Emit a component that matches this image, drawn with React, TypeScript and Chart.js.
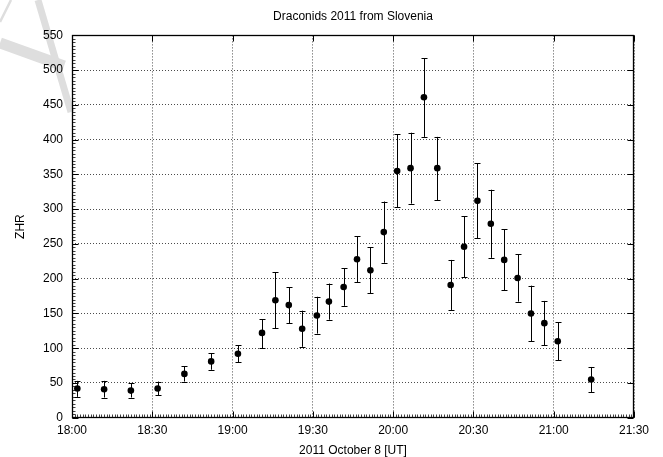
import React, { useEffect, useRef } from 'react';
import { Chart, registerables } from 'chart.js';

Chart.register(...registerables);

const TITLE = 'Draconids 2011 from Slovenia';
const X_LABEL = '2011 October 8 [UT]';
const Y_LABEL = 'ZHR';
const X_TICK_LABELS = ['18:00', '18:30', '19:00', '19:30', '20:00', '20:30', '21:00', '21:30'];

// time of each point, in minutes after 18:00 UT
const minutesAfter1800 = [2, 12, 22, 32, 42, 52, 62, 71, 76, 81, 86, 91.5, 96, 101.5, 106.5, 111.5, 116.5, 121.5, 126.5, 131.5, 136.5, 141.5, 146.5, 151.5, 156.5, 161.5, 166.5, 171.5, 176.5, 181.5, 194];
const zhr = [42, 41, 39, 42, 63, 81, 92, 122, 169, 162, 128, 147, 167, 188, 228, 212, 267, 355, 359, 461, 359, 191, 246, 312, 279, 227, 201, 150, 136, 110, 55];
const zhrLow = [30, 29, 29, 32, 52, 69, 80, 100, 129, 136, 102, 121, 141, 161, 195, 179, 223, 303, 308, 404, 313, 155, 202, 258, 230, 183, 167, 110, 104, 83, 37];
const zhrHigh = [53, 53, 50, 52, 74, 93, 104, 142, 209, 188, 154, 174, 193, 215, 261, 245, 311, 408, 410, 517, 404, 227, 290, 366, 328, 271, 235, 190, 168, 137, 73];

const FONT = "'Liberation Sans', Arial, Helvetica, sans-serif";

const decorPlugin = {
  id: 'decor',
  beforeDraw(chart: any) {
    const ctx = chart.ctx;
    ctx.save();
    ctx.strokeStyle = '#dedede';
    ctx.lineCap = 'butt';
    ctx.lineWidth = 11;
    ctx.beginPath();
    ctx.moveTo(0, 43);
    ctx.lineTo(64, 66);
    ctx.stroke();
    ctx.lineWidth = 7;
    ctx.beginPath();
    ctx.moveTo(38, 0);
    ctx.lineTo(71, 112);
    ctx.stroke();
    ctx.lineWidth = 2.5;
    ctx.beginPath();
    ctx.moveTo(0, 22);
    ctx.lineTo(11, 0);
    ctx.stroke();
    ctx.restore();
  },
  beforeDatasetsDraw(chart: any) {
    const ctx = chart.ctx;
    const xs = chart.scales.x;
    const ys = chart.scales.y;
    ctx.save();
    ctx.strokeStyle = '#000';
    ctx.lineWidth = 1;
    for (let i = 0; i < minutesAfter1800.length; i++) {
      const x = Math.round(xs.getPixelForValue(minutesAfter1800[i])) + 0.5;
      const yl = ys.getPixelForValue(zhrLow[i]);
      const yh = ys.getPixelForValue(zhrHigh[i]);
      ctx.beginPath();
      ctx.moveTo(x, yl);
      ctx.lineTo(x, yh);
      ctx.moveTo(x - 3, Math.round(yl) + 0.5);
      ctx.lineTo(x + 3, Math.round(yl) + 0.5);
      ctx.moveTo(x - 3, Math.round(yh) + 0.5);
      ctx.lineTo(x + 3, Math.round(yh) + 0.5);
      ctx.stroke();
    }
    ctx.restore();
  },
  afterDraw(chart: any) {
    const ctx = chart.ctx;
    const { left, right, top, bottom } = chart.chartArea;
    const xs = chart.scales.x;
    const ys = chart.scales.y;
    const L = Math.round(left) + 0.5;
    const R = Math.round(right) - 0.5;
    const T = Math.round(top) + 0.5;
    const B = Math.round(bottom) - 0.5;
    ctx.save();
    // minor ticks (left and bottom)
    ctx.strokeStyle = 'rgba(0,0,0,0.75)';
    ctx.lineWidth = 1;
    ctx.beginPath();
    for (let m = 0; m <= 210; m += 1) {
      const x = Math.round(xs.getPixelForValue(m)) + 0.5;
      ctx.moveTo(x, B);
      ctx.lineTo(x, B - 3);
    }
    for (let v = 0; v <= 550; v += 5) {
      const y = Math.round(ys.getPixelForValue(v)) + 0.5;
      ctx.moveTo(L, y);
      ctx.lineTo(L + 3, y);
    }
    ctx.stroke();
    // major ticks, inward on all sides
    ctx.strokeStyle = '#000';
    ctx.beginPath();
    for (let m = 0; m <= 210; m += 30) {
      const x = Math.round(xs.getPixelForValue(m)) + 0.5;
      ctx.moveTo(x, B);
      ctx.lineTo(x, B - 6);
      ctx.moveTo(x, T);
      ctx.lineTo(x, T + 6);
    }
    for (let v = 0; v <= 550; v += 50) {
      const y = Math.round(ys.getPixelForValue(v)) + 0.5;
      ctx.moveTo(L, y);
      ctx.lineTo(L + 6, y);
      ctx.moveTo(R, y);
      ctx.lineTo(R - 6, y);
    }
    ctx.stroke();
    // frame
    ctx.lineWidth = 1.3;
    ctx.strokeRect(L, T, R - L, B - T);
    ctx.restore();
  },
};

export default function App() {
  const ref = useRef<HTMLCanvasElement | null>(null);

  useEffect(() => {
    document.body.style.margin = '0';
    const canvas = ref.current;
    if (!canvas) return;
    Chart.defaults.font.family = FONT;
    Chart.defaults.color = '#000';
    const chart = new Chart(canvas, {
      type: 'scatter',
      data: {
        datasets: [
          {
            label: Y_LABEL,
            data: minutesAfter1800.map((m, i) => ({ x: m, y: zhr[i] })),
            backgroundColor: '#000',
            borderColor: '#000',
            borderWidth: 0,
            pointRadius: 3.3,
            pointHoverRadius: 3.3,
            showLine: false,
          },
        ],
      },
      options: {
        responsive: false,
        animation: false,
        devicePixelRatio: 1,
        layout: { padding: { left: 0, right: 29, top: 0, bottom: 0 } },
        plugins: {
          legend: { display: false },
          tooltip: { enabled: false },
          title: {
            display: true,
            text: TITLE,
            fullSize: false,
            color: '#000',
            font: { family: FONT, size: 12, weight: 'normal' },
            padding: { top: 9, bottom: 12 },
          },
        },
        scales: {
          x: {
            type: 'linear',
            min: 0,
            max: 210,
            afterFit: (s: any) => {
              s.height = 39.3;
            },
            ticks: {
              stepSize: 30,
              padding: 6,
              font: { family: FONT, size: 12 },
              color: '#000',
              maxRotation: 0,
              callback: (_v: any, i: number) => X_TICK_LABELS[i],
            },
            grid: {
              color: 'rgba(0,0,0,0.7)',
              lineWidth: 1,
              drawTicks: false,
            },
            border: { display: false, dash: [1, 2] },
            title: {
              display: true,
              text: X_LABEL,
              color: '#000',
              font: { family: FONT, size: 12 },
              padding: { top: 0, bottom: -1 },
            },
          },
          y: {
            type: 'linear',
            min: 0,
            max: 550,
            afterFit: (s: any) => {
              s.width = 72;
            },
            ticks: {
              stepSize: 50,
              padding: 9,
              font: { family: FONT, size: 12 },
              color: '#000',
            },
            grid: {
              color: 'rgba(0,0,0,0.7)',
              lineWidth: 1,
              drawTicks: false,
            },
            border: { display: false, dash: [1, 2] },
            title: {
              display: true,
              text: Y_LABEL,
              color: '#000',
              font: { family: FONT, size: 12 },
              padding: { top: 13, bottom: 0 },
            },
          },
        },
      },
      plugins: [decorPlugin],
    });
    return () => chart.destroy();
  }, []);

  return (
    <div style={{ width: 663, height: 457, background: '#fff' }}>
      <canvas ref={ref} width={663} height={457} style={{ display: 'block' }} />
    </div>
  );
}
